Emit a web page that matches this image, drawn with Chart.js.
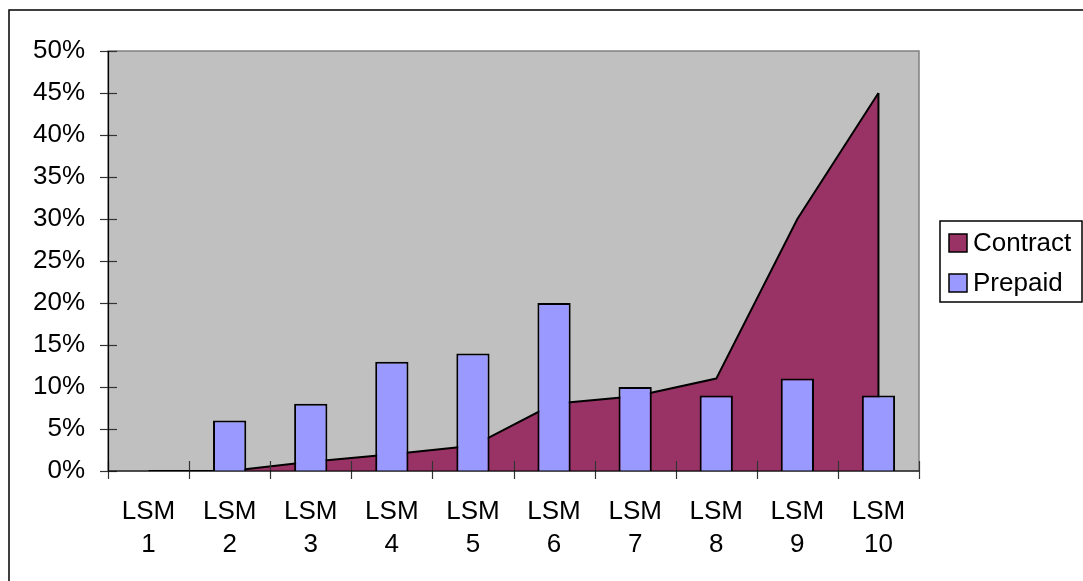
<!DOCTYPE html>
<html>
<head>
<meta charset="utf-8">
<script src="https://cdn.jsdelivr.net/npm/chart.js@4/dist/chart.umd.min.js"></script>
<style>
  html, body { margin: 0; padding: 0; background: #fff; }
  #wrap { width: 1083px; height: 581px; }
</style>
</head>
<body>
<div id="wrap"><canvas id="chart" width="1083" height="581"></canvas></div>
<script>
const categories = [["LSM", "1"], ["LSM", "2"], ["LSM", "3"], ["LSM", "4"], ["LSM", "5"],
  ["LSM", "6"], ["LSM", "7"], ["LSM", "8"], ["LSM", "9"], ["LSM", "10"]];
const contract = [0, 0, 1.1, 2, 3, 8, 8.9, 11, 30, 45];
const prepaid = [0, 6, 8, 13, 14, 20, 10, 9, 11, 9];
const yTicks = [0, 5, 10, 15, 20, 25, 30, 35, 40, 45, 50];

const FONT = "'Liberation Sans', Arial, sans-serif";

// grey plot area, outer frame, crossing tick marks, legend box
const excelLook = {
  id: "excelLook",
  beforeDraw(chart) {
    const ctx = chart.ctx;
    const a = chart.chartArea;
    ctx.save();
    ctx.fillStyle = "#fff";
    ctx.fillRect(0, 0, chart.width, chart.height);
    ctx.strokeStyle = "#000";
    ctx.lineWidth = 1.5;
    ctx.strokeRect(9, 10, chart.width + 20, chart.height + 20);
    ctx.fillStyle = "#C0C0C0";
    ctx.fillRect(a.left, a.top, a.right - a.left, a.bottom - a.top);
    ctx.strokeStyle = "#808080";
    ctx.lineWidth = 1.5;
    ctx.strokeRect(a.left, a.top, a.right - a.left, a.bottom - a.top);
    ctx.restore();
  },
  afterDatasetDraw(chart, args) {
    // closing edge of the area at the last category
    if (args.index !== 0) return;
    const meta = chart.getDatasetMeta(0);
    const last = meta.data[meta.data.length - 1];
    const ctx = chart.ctx;
    ctx.save();
    ctx.strokeStyle = "#000";
    ctx.lineWidth = 2;
    ctx.beginPath();
    ctx.moveTo(last.x, last.y);
    ctx.lineTo(last.x, chart.scales.y.getPixelForValue(0));
    ctx.stroke();
    ctx.restore();
  },
  afterDraw(chart) {
    const ctx = chart.ctx;
    const a = chart.chartArea;
    const xs = chart.scales.x;
    const ys = chart.scales.y;
    ctx.save();
    ctx.strokeStyle = "#333";
    ctx.lineWidth = 1.2;
    yTicks.forEach((v) => {
      const y = Math.round(ys.getPixelForValue(v)) + 0.5;
      ctx.beginPath();
      ctx.moveTo(a.left - 8, y);
      ctx.lineTo(a.left + 9, y);
      ctx.stroke();
    });
    const n = categories.length;
    for (let i = 0; i <= n; i++) {
      const x = Math.round(xs.getPixelForValue(i - 0.5)) + 0.5;
      ctx.beginPath();
      ctx.moveTo(x, a.bottom - 10);
      ctx.lineTo(x, a.bottom + 8);
      ctx.stroke();
    }
    // axis lines
    ctx.strokeStyle = "#000";
    ctx.beginPath();
    ctx.moveTo(a.left + 0.5, a.top);
    ctx.lineTo(a.left + 0.5, a.bottom);
    ctx.lineTo(a.right, a.bottom);
    ctx.stroke();

    // legend
    const lx = 940, ly = 221;
    ctx.lineWidth = 1.5;
    ctx.strokeStyle = "#000";
    ctx.strokeRect(lx, ly, 142, 81);
    ctx.font = "26px " + FONT;
    ctx.textBaseline = "middle";
    ctx.fillStyle = "#000";
    chart.data.datasets.forEach((ds, i) => {
      const cy = 243 + i * 40;
      ctx.fillStyle = ds.backgroundColor;
      ctx.fillRect(949, cy - 9, 18, 18);
      ctx.strokeRect(949, cy - 9, 18, 18);
      ctx.fillStyle = "#000";
      ctx.fillText(ds.label, 973, cy + 1);
    });
    ctx.restore();
  }
};

new Chart(document.getElementById("chart"), {
  data: {
    labels: categories,
    datasets: [
      {
        type: "line",
        label: "Contract",
        data: contract,
        backgroundColor: "#993366",
        borderColor: "#000",
        borderWidth: 2,
        pointRadius: 0,
        tension: 0,
        fill: "origin",
        order: 2,
      },
      {
        type: "bar",
        label: "Prepaid",
        data: prepaid,
        backgroundColor: "#9999FF",
        borderColor: "#000",
        borderWidth: 2,
        barPercentage: 0.41,
        categoryPercentage: 1.0,
        order: 1,
      },
    ],
  },
  options: {
    responsive: false,
    animation: false,
    layout: { padding: { left: 0, top: 51, right: 164, bottom: 0 } },
    plugins: {
      legend: { display: false },
      tooltip: { enabled: false },
    },
    scales: {
      x: {
        offset: true,
        grid: { display: false, drawTicks: false },
        border: { display: false },
        ticks: {
          color: "#000",
          padding: 25,
          maxRotation: 0,
          autoSkip: false,
          font: { family: FONT, size: 26, lineHeight: 1.25 },
        },
        afterFit: (scale) => { scale.height = 110; },
      },
      y: {
        min: 0,
        max: 50,
        grid: { display: false, drawTicks: false },
        border: { display: false },
        ticks: {
          stepSize: 5,
          color: "#000",
          padding: 23,
          font: { family: FONT, size: 26 },
          callback: (v) => v + "%",
        },
        afterFit: (scale) => { scale.width = 108; },
      },
    },
  },
  plugins: [excelLook],
});
</script>
</body>
</html>
